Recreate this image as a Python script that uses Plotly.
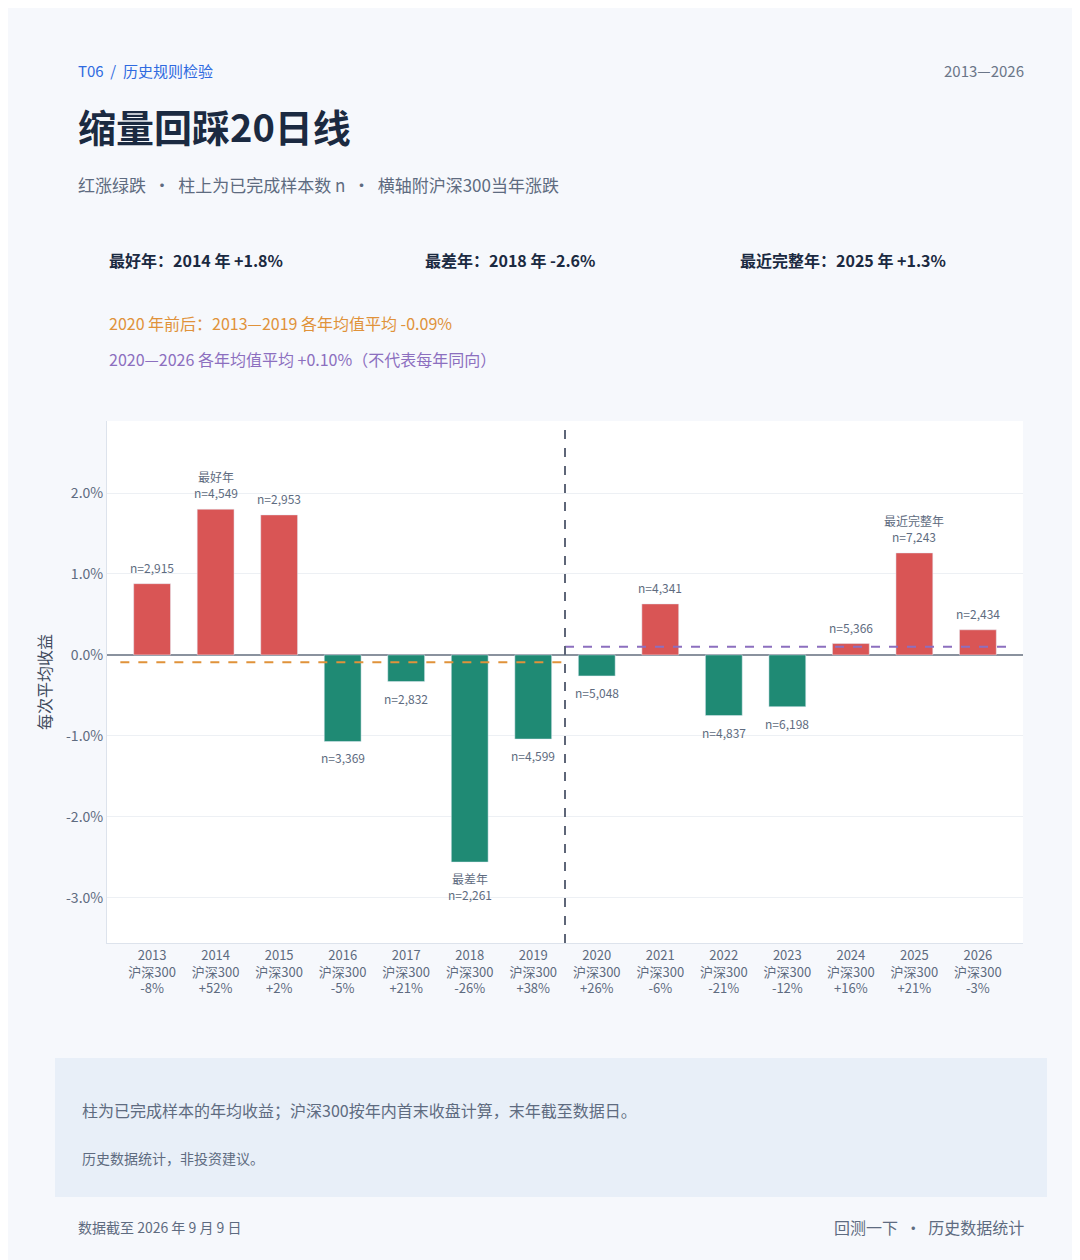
import plotly.graph_objects as go

years = ["2013", "2014", "2015", "2016", "2017", "2018", "2019",
         "2020", "2021", "2022", "2023", "2024", "2025", "2026"]
avg_ret = [0.88, 1.80, 1.73, -1.07, -0.33, -2.56, -1.04,
           -0.26, 0.63, -0.75, -0.64, 0.14, 1.26, 0.31]
samples = ["2,915", "4,549", "2,953", "3,369", "2,832", "2,261", "4,599",
           "5,048", "4,341", "4,837", "6,198", "5,366", "7,243", "2,434"]
hs300 = ["-8%", "+52%", "+2%", "-5%", "+21%", "-26%", "+38%",
         "+26%", "-6%", "-21%", "-12%", "+16%", "+21%", "-3%"]
tags = {"2014": "最好年", "2018": "最差年", "2025": "最近完整年"}
pre_mean = -0.09
post_mean = 0.10

FONT = "Noto Sans CJK SC"
RED, GREEN = "#d95555", "#1f8a74"
W, H = 1080, 1260
L, R, T, B = 99, 1015, 413, 935

def px(x):
    return (x - L) / (R - L)

def py(y):
    return (B - y) / (B - T)

xs = list(range(len(years)))
fig = go.Figure(go.Bar(
    x=xs, y=avg_ret, width=0.58,
    marker_color=[RED if v >= 0 else GREEN for v in avg_ret],
    hoverinfo="skip"))

for i, (v, n, yr) in enumerate(zip(avg_ret, samples, years)):
    txt = f"n={n}"
    if yr in tags:
        txt = f"{tags[yr]}<br>{txt}" if v >= 0 else f"{tags[yr]}<br>{txt}"
    fig.add_annotation(x=i, y=v, text=txt, showarrow=False,
                       yanchor="bottom" if v >= 0 else "top",
                       yshift=6 if v >= 0 else -6,
                       font=dict(family=FONT, size=12, color="#5e6b80"))

fig.add_shape(type="line", x0=-0.5, x1=6.5, y0=pre_mean, y1=pre_mean,
              line=dict(color="#e0923a", width=2, dash="dash"))
fig.add_shape(type="line", x0=6.5, x1=13.5, y0=post_mean, y1=post_mean,
              line=dict(color="#8c6fbf", width=2, dash="dash"))
fig.add_shape(type="line", x0=6.5, x1=6.5, y0=0, y1=1, yref="paper",
              line=dict(color="#5e6678", width=2, dash="dash"))

def text(x, y, s, size, color, anchor="left", bold=False):
    fig.add_annotation(x=px(x), y=py(y), xref="paper", yref="paper", text=f"<b>{s}</b>" if bold else s,
                       showarrow=False, xanchor=anchor, yanchor="middle",
                       font=dict(family=FONT, size=size, color=color))

text(68, 63, "T06  /  历史规则检验", 15, "#2f6ae0")
text(1018, 63, "2013—2026", 15, "#6b7688", "right")
text(68, 117, "缩量回踩20日线", 38, "#1b2a41", bold=True)
text(68, 177, "红涨绿跌  ·  柱上为已完成样本数 n  ·  横轴附沪深300当年涨跌", 17, "#5e6b80")
text(99, 252, "最好年：2014 年 +1.8%", 16, "#1b2a41", bold=True)
text(415, 252, "最差年：2018 年 -2.6%", 16, "#1b2a41", bold=True)
text(730, 252, "最近完整年：2025 年 +1.3%", 16, "#1b2a41", bold=True)
text(99, 315, "2020 年前后：2013—2019 各年均值平均 -0.09%", 16, "#e0923a")
text(99, 351, "2020—2026 各年均值平均 +0.10%（不代表每年同向）", 16, "#8c6fbf")
text(72, 1102, "柱为已完成样本的年均收益；沪深300按年内首末收盘计算，末年截至数据日。", 16, "#5e6b80")
text(72, 1150, "历史数据统计，非投资建议。", 14, "#5e6b80")
text(68, 1219, "数据截至 2026 年 9 月 9 日", 14, "#5e6b80")
text(1018, 1219, "回测一下  ·  历史数据统计", 16, "#5e6b80", "right")

fig.add_shape(type="rect", xref="paper", yref="paper",
              x0=px(47), x1=px(1039), y0=py(1189), y1=py(1050),
              fillcolor="#e8eff8", line=dict(width=0), layer="below")

fig.update_layout(
    width=W, height=H, showlegend=False,
    paper_bgcolor="#f6f8fc", plot_bgcolor="white",
    margin=dict(l=L, r=W - R, t=T, b=H - B),
    font=dict(family=FONT, color="#5e6b80"),
    xaxis=dict(range=[-0.71, 13.71], tickmode="array", tickvals=xs,
               ticktext=[f"{y}<br>沪深300<br>{h}" for y, h in zip(years, hs300)],
               tickfont=dict(size=13, color="#5e6b80"), showgrid=False,
               showline=True, linecolor="#dde3ec", ticks=""),
    yaxis=dict(range=[-3.56, 2.89], tickvals=[-3, -2, -1, 0, 1, 2],
               ticktext=["-3.0%", "-2.0%", "-1.0%", "0.0%", "1.0%", "2.0%"],
               tickfont=dict(size=14, color="#5e6b80"), gridcolor="#edf0f4",
               zeroline=True, zerolinecolor="#8a929e", zerolinewidth=1.5,
               showline=True, linecolor="#dde3ec",
               title=dict(text="每次平均收益", font=dict(size=16, color="#3f4a5c"), standoff=10)),
)

fig.write_html("out.html")
